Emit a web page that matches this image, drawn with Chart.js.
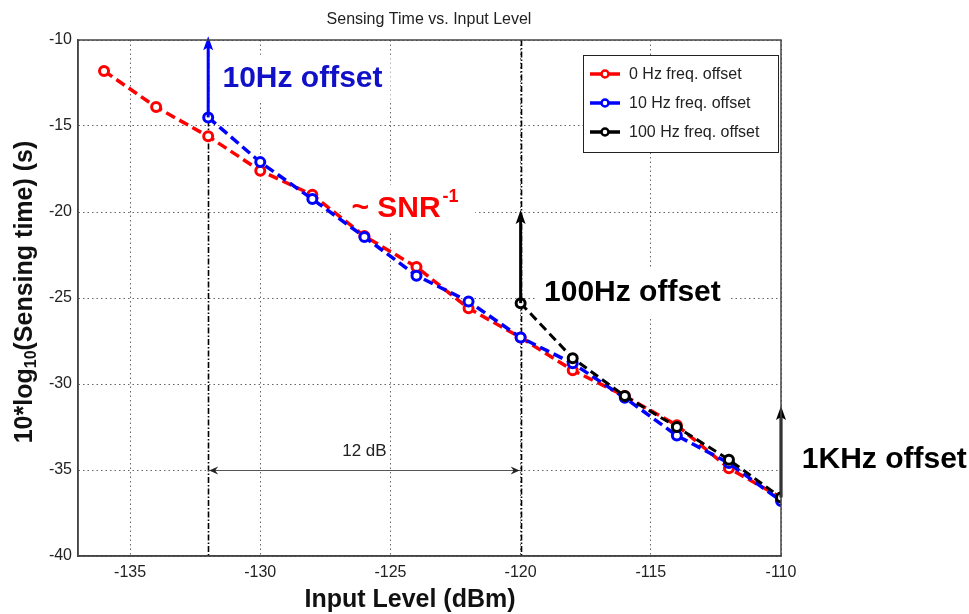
<!DOCTYPE html>
<html>
<head>
<meta charset="utf-8">
<title>Sensing Time vs. Input Level</title>
<script src="https://cdn.jsdelivr.net/npm/chart.js@4.4.1/dist/chart.umd.min.js"></script>
<style>
  html, body { margin: 0; padding: 0; background: #fff; overflow: hidden; }
  #wrap { width: 969px; height: 614px; position: relative; }
</style>
</head>
<body>
<div id="wrap"><canvas id="sensingChart"></canvas></div>
<script>
// Input level (dBm) and 10*log10(sensing time) for each frequency offset
const inputLevel0Hz = [-136, -134, -132, -130, -128, -126, -124, -122, -120, -118, -116, -114, -112, -110];
const sensing0Hz = [-11.8, -13.9, -15.6, -17.6, -19.0, -21.4, -23.2, -25.6, -27.3, -29.2, -30.7, -32.4, -34.9, -36.6];

const inputLevel10Hz = [-132, -130, -128, -126, -124, -122, -120, -118, -116, -114, -112, -110];
const sensing10Hz = [-14.5, -17.1, -19.25, -21.45, -23.7, -25.2, -27.3, -28.8, -30.8, -33.0, -34.6, -36.8];

const inputLevel100Hz = [-120, -118, -116, -114, -112, -110];
const sensing100Hz = [-25.3, -28.5, -30.7, -32.5, -34.4, -36.6];

const seriesNames = ['0 Hz freq. offset', '10 Hz freq. offset', '100 Hz freq. offset'];

// Axis ticks
const xTicks = [-135, -130, -125, -120, -115, -110];
const yTicks = [-40, -35, -30, -25, -20, -15, -10];

// Annotations (in data units)
const offsetLines = [-132, -120];             // dash-dot verticals
const arrowX = [-132, -120, -110];            // vertical arrows
const arrowFrom = [-14.5, -25.3, -36.6];
const arrowTo = [-9.9, -20.0, -31.4];
const spanFrom = -132, spanTo = -120, spanLevel = -35; // "12 dB" span

const colors = ['#ff0000', '#0000ff', '#000000'];

function toPoints(xs, ys) {
    return xs.map((x, i) => ({ x: x, y: ys[i] }));
}

function drawArrow(ctx, x, y1, y2, color, width) {
    ctx.save();
    ctx.strokeStyle = color;
    ctx.fillStyle = color;
    ctx.lineWidth = width;
    ctx.beginPath();
    ctx.moveTo(x, y1);
    ctx.lineTo(x, y2 + 8);
    ctx.stroke();
    ctx.beginPath();
    ctx.moveTo(x, y2 - 2);
    ctx.lineTo(x - 5, y2 + 12);
    ctx.lineTo(x, y2 + 9);
    ctx.lineTo(x + 5, y2 + 12);
    ctx.closePath();
    ctx.fill();
    ctx.restore();
}

// white box behind a big label
function labelBox(ctx, text, x, y, font) {
    ctx.save();
    ctx.font = font;
    const w = ctx.measureText(text).width;
    ctx.fillStyle = '#ffffff';
    ctx.fillRect(x - 8, y - 24, w + 16, 48);
    ctx.restore();
}

const annotationPlugin = {
    id: 'sensingAnnotations',
    beforeDatasetsDraw(chart) {
        const { ctx, chartArea, scales: { x, y } } = chart;
        const bigFont = 'bold 30px "Liberation Sans", Arial, sans-serif';

        labelBox(ctx, '10Hz offset', x.getPixelForValue(-131.45), y.getPixelForValue(-12.25), bigFont);
        labelBox(ctx, '~ SNR-1', x.getPixelForValue(-126.5), y.getPixelForValue(-19.8), bigFont);
        labelBox(ctx, '100Hz offset', x.getPixelForValue(-119.1), y.getPixelForValue(-24.7), bigFont);

        // dash-dot lines at -132 and -120 dBm
        ctx.save();
        ctx.strokeStyle = '#000';
        ctx.lineWidth = 1.6;
        ctx.setLineDash([6, 2, 1.5, 2]);
        offsetLines.forEach(v => {
            const px = Math.round(x.getPixelForValue(v)) + 0.5;
            ctx.beginPath();
            ctx.moveTo(px, chartArea.top);
            ctx.lineTo(px, chartArea.bottom);
            ctx.stroke();
        });
        ctx.restore();

        // 12 dB span
        const sx1 = x.getPixelForValue(spanFrom), sx2 = x.getPixelForValue(spanTo);
        const sy = Math.round(y.getPixelForValue(spanLevel)) + 0.5;
        ctx.save();
        ctx.strokeStyle = '#555';
        ctx.lineWidth = 1.2;
        ctx.beginPath();
        ctx.moveTo(sx1, sy);
        ctx.lineTo(sx2, sy);
        ctx.stroke();
        ctx.fillStyle = '#222';
        ctx.beginPath();
        ctx.moveTo(sx1 + 1, sy); ctx.lineTo(sx1 + 10, sy - 4); ctx.lineTo(sx1 + 7, sy); ctx.lineTo(sx1 + 10, sy + 4);
        ctx.closePath(); ctx.fill();
        ctx.beginPath();
        ctx.moveTo(sx2 - 1, sy); ctx.lineTo(sx2 - 10, sy - 4); ctx.lineTo(sx2 - 7, sy); ctx.lineTo(sx2 - 10, sy + 4);
        ctx.closePath(); ctx.fill();
        ctx.font = '17px "Liberation Sans", Arial, sans-serif';
        ctx.textAlign = 'center';
        ctx.textBaseline = 'middle';
        ctx.fillText('12 dB', (sx1 + sx2) / 2, sy - 19);
        ctx.restore();
    },
    afterDatasetsDraw(chart) {
        const { ctx, scales: { x, y } } = chart;
        const bigFont = 'bold 30px "Liberation Sans", Arial, sans-serif';
        const arrowColors = ['#0000ff', '#000', '#000'];

        arrowX.forEach((v, i) => {
            drawArrow(ctx, x.getPixelForValue(v), y.getPixelForValue(arrowFrom[i]), y.getPixelForValue(arrowTo[i]), arrowColors[i], 3);
        });

        ctx.save();
        ctx.textAlign = 'left';
        ctx.textBaseline = 'middle';
        ctx.font = bigFont;

        ctx.fillStyle = '#1010c8';
        ctx.fillText('10Hz offset', x.getPixelForValue(-131.45), y.getPixelForValue(-12.25));

        ctx.fillStyle = '#000';
        ctx.fillText('100Hz offset', x.getPixelForValue(-119.1), y.getPixelForValue(-24.7));
        ctx.fillText('1KHz offset', x.getPixelForValue(-109.2), y.getPixelForValue(-34.4));

        // ~ SNR^-1
        ctx.fillStyle = '#ff0000';
        const sx = x.getPixelForValue(-126.5), syy = y.getPixelForValue(-19.8);
        ctx.fillText('~ SNR', sx, syy);
        const w = ctx.measureText('~ SNR').width;
        ctx.font = 'bold 18px "Liberation Sans", Arial, sans-serif';
        ctx.fillText('-1', sx + w + 2, syy - 12);
        ctx.restore();
    },
    afterDraw(chart) {
        const { ctx, chartArea } = chart;
        const { left, right, top, bottom } = chartArea;

        // frame
        ctx.save();
        ctx.strokeStyle = '#444';
        ctx.lineWidth = 1.5;
        ctx.strokeRect(left, top, right - left, bottom - top);
        ctx.restore();

        // title
        ctx.save();
        ctx.fillStyle = '#222';
        ctx.font = '16px "Liberation Sans", Arial, sans-serif';
        ctx.textAlign = 'center';
        ctx.textBaseline = 'middle';
        ctx.fillText('Sensing Time vs. Input Level', 429, 20);

        // x axis title
        ctx.fillStyle = '#111';
        ctx.font = 'bold 25px "Liberation Sans", Arial, sans-serif';
        ctx.fillText('Input Level (dBm)', 410, 600);

        // y axis title with subscript
        ctx.translate(25, 292);
        ctx.rotate(-Math.PI / 2);
        const p1 = '10*log', sub = '10', p2 = '(Sensing time) (s)';
        const mainFont = 'bold 25px "Liberation Sans", Arial, sans-serif';
        const subFont = 'bold 16px "Liberation Sans", Arial, sans-serif';
        ctx.font = mainFont;
        const w1 = ctx.measureText(p1).width, w3 = ctx.measureText(p2).width;
        ctx.font = subFont;
        const w2 = ctx.measureText(sub).width;
        let cx = -(w1 + w2 + w3) / 2;
        ctx.textAlign = 'left';
        ctx.font = mainFont;
        ctx.fillText(p1, cx, 0);
        cx += w1;
        ctx.font = subFont;
        ctx.fillText(sub, cx, 7);
        cx += w2;
        ctx.font = mainFont;
        ctx.fillText(p2, cx, 0);
        ctx.restore();

        // legend
        const lx = 583, ly = 55, lw = 195, lh = 97;
        ctx.save();
        ctx.fillStyle = '#fff';
        ctx.fillRect(lx, ly, lw, lh);
        ctx.strokeStyle = '#222';
        ctx.lineWidth = 1;
        ctx.strokeRect(lx + 0.5, ly + 0.5, lw, lh);
        ctx.font = '16px "Liberation Sans", Arial, sans-serif';
        ctx.textBaseline = 'middle';
        seriesNames.forEach((name, i) => {
            const ey = ly + 19 + i * 29;
            ctx.strokeStyle = colors[i];
            ctx.lineWidth = 3.5;
            ctx.beginPath();
            ctx.moveTo(lx + 7, ey);
            ctx.lineTo(lx + 37, ey);
            ctx.stroke();
            ctx.beginPath();
            ctx.arc(lx + 22, ey, 3.5, 0, Math.PI * 2);
            ctx.fillStyle = '#fff';
            ctx.fill();
            ctx.lineWidth = 2.5;
            ctx.stroke();
            ctx.fillStyle = '#222';
            ctx.fillText(name, lx + 46, ey + 1);
        });
        ctx.restore();
    }
};

const datasetStyle = (i, order, dash, width) => ({
    label: seriesNames[i],
    borderColor: colors[i],
    backgroundColor: colors[i],
    pointBackgroundColor: '#ffffff',
    pointBorderColor: colors[i],
    pointRadius: 4.5,
    pointBorderWidth: 3,
    borderWidth: width,
    borderDash: dash,
    showLine: true,
    order: order
});

new Chart(document.getElementById('sensingChart'), {
    type: 'scatter',
    data: {
        datasets: [
            Object.assign(datasetStyle(0, 3, [10, 5], 3.5), { data: toPoints(inputLevel0Hz, sensing0Hz) }),
            Object.assign(datasetStyle(1, 2, [10, 5], 3.5), { data: toPoints(inputLevel10Hz, sensing10Hz) }),
            Object.assign(datasetStyle(2, 1, [9, 5], 3), { data: toPoints(inputLevel100Hz, sensing100Hz) })
        ]
    },
    options: {
        responsive: true,
        maintainAspectRatio: false,
        animation: false,
        layout: { padding: { top: 40, right: 188, left: 0, bottom: 0 } },
        plugins: {
            legend: { display: false },
            title: { display: false },
            tooltip: { enabled: false }
        },
        scales: {
            x: {
                type: 'linear',
                min: -137,
                max: -110,
                afterBuildTicks: scale => { scale.ticks = xTicks.map(v => ({ value: v })); },
                afterFit: scale => { scale.height = 58; },
                ticks: {
                    color: '#222',
                    padding: 7,
                    maxRotation: 0,
                    font: { family: '"Liberation Sans", Arial, sans-serif', size: 16 },
                    callback: v => String(v)
                },
                grid: { color: '#666', lineWidth: 1, drawTicks: false },
                border: { display: true, color: '#444', width: 1.5, dash: [1.5, 3] }
            },
            y: {
                type: 'linear',
                min: -40,
                max: -10,
                afterBuildTicks: scale => { scale.ticks = yTicks.map(v => ({ value: v })); },
                afterFit: scale => { scale.width = 78; },
                ticks: {
                    color: '#222',
                    padding: 6,
                    font: { family: '"Liberation Sans", Arial, sans-serif', size: 16 },
                    callback: v => String(v)
                },
                grid: { color: '#666', lineWidth: 1, drawTicks: false },
                border: { display: true, color: '#444', width: 1.5, dash: [1.5, 3] }
            }
        }
    },
    plugins: [annotationPlugin]
});
</script>
</body>
</html>
